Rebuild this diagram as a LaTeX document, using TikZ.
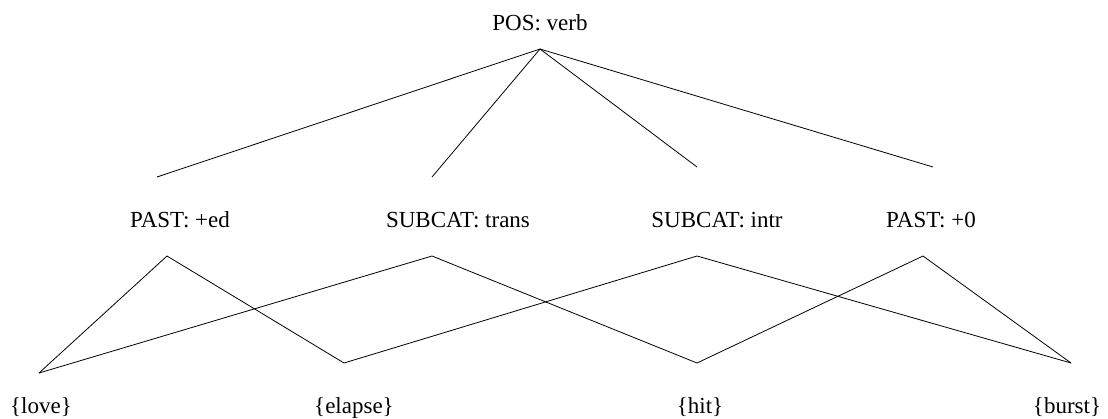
\documentclass[tikz,border=0pt]{standalone}
\usepackage{fontspec}
\setmainfont{Liberation Serif}
\begin{document}
\begin{tikzpicture}[x=1pt,y=-1pt,
  lbl/.style={anchor=base,inner sep=0pt,font=\fontsize{23}{27}\selectfont},
  edge/.style={draw=black,line width=0.8pt,line join=miter}]
\useasboundingbox (0,0) rectangle (1108,418);

% feature labels
\node[lbl] (pos)   at (540,30)  {POS: verb};
\node[lbl] (pasted) at (180,227) {PAST: +ed};
\node[lbl] (trans) at (458,227) {SUBCAT: trans};
\node[lbl] (intr)  at (717,227) {SUBCAT: intr};
\node[lbl] (past0) at (931,227) {PAST: +0};

% word sets
\node[lbl] (love)   at (41,413)   {\{love\}};
\node[lbl] (elapse) at (354,413)  {\{elapse\}};
\node[lbl] (hit)    at (700,413)  {\{hit\}};
\node[lbl] (burst)  at (1067,413) {\{burst\}};

% attachment points of the branches
\coordinate (posB)    at (540,49);
\coordinate (pastedT) at (157,177);
\coordinate (transT)  at (432,177);
\coordinate (intrT)   at (697,167);
\coordinate (past0T)  at (933,167);
\coordinate (pastedB) at (167,256);
\coordinate (transB)  at (432,256);
\coordinate (intrB)   at (697,256);
\coordinate (past0B)  at (923,256);
\coordinate (loveT)   at (39,373);
\coordinate (elapseT) at (344,363);
\coordinate (hitT)    at (697,363);
\coordinate (burstT)  at (1071,363);

% upper branches
\draw[edge] (posB) -- (pastedT);
\draw[edge] (posB) -- (transT);
\draw[edge] (posB) -- (intrT);
\draw[edge] (posB) -- (past0T);

% lower branches
\draw[edge] (loveT) -- (pastedB) -- (elapseT);
\draw[edge] (loveT) -- (transB) -- (hitT);
\draw[edge] (elapseT) -- (intrB) -- (burstT);
\draw[edge] (hitT) -- (past0B) -- (burstT);
\end{tikzpicture}
\end{document}
